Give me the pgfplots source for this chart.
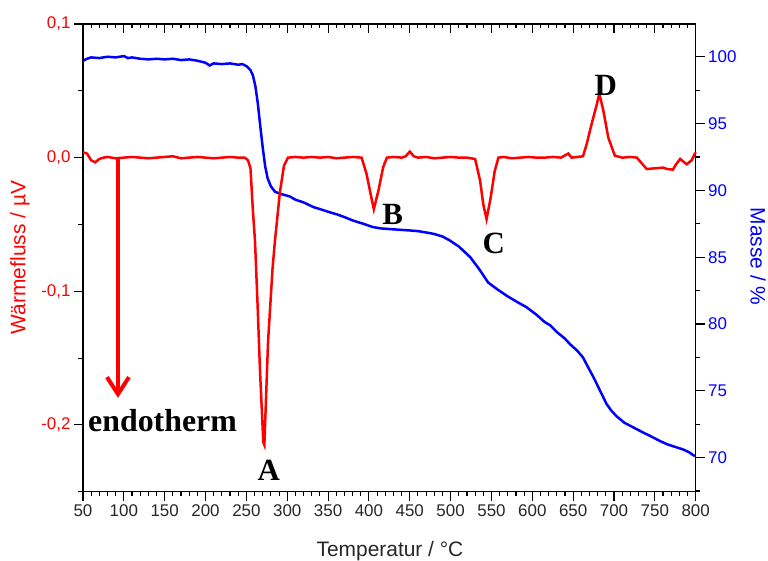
\documentclass[border=0pt]{standalone}
\usepackage{pgfplots}
\pgfplotsset{compat=1.18}
\usepackage{fontspec}
\setmainfont{Liberation Sans}
\newfontfamily\tnr{Liberation Serif}
\begin{document}
\begin{tikzpicture}
\pgfplotsset{
  common/.style={
    scale only axis, width=612.7bp, height=467.7bp,
    at={(0,0)}, anchor=south west,
    xmin=50, xmax=800, clip=false,
    /pgf/number format/assume math mode=true,
    major tick length=9bp, minor tick length=4.5bp,
    tick style={black, line width=1.1bp},
    tick label style={font=\fontsize{17}{20}\selectfont},
    axis line style={line width=1.3bp},
  }
}
% ---------- mass (right axis)
\begin{axis}[common,
  xtick=\empty,
  ymin=67.45, ymax=102.45, ytick={70,75,...,100}, minor y tick num=1,
  ytick pos=right, tick align=outside,
  yticklabel style={text=blue},
  ylabel={Masse / \%},
  every axis y label/.style={at={(axis description cs:1.1017,0.503)}, rotate=-90, anchor=center, font=\fontsize{21}{24}\selectfont, text=blue},
]
\addplot[blue, line width=2.5bp] coordinates {
(50,99.7)(55,99.85)(60,99.95)(70,99.9)(80,100.0)(90,99.95)(100,100.05)(105,99.9)(110,99.95)(120,99.85)(130,99.8)(140,99.85)(150,99.8)(160,99.85)(170,99.75)(180,99.8)(190,99.7)(200,99.55)(205,99.35)(210,99.5)(220,99.45)(230,99.5)(240,99.4)(245,99.45)(250,99.3)(255,99.0)(258,98.6)(261,97.8)(264,96.5)(267,94.8)(270,93.2)(273,91.8)(276,90.9)(280,90.3)(285,89.9)(291,89.75)(297,89.65)(303,89.55)(310,89.3)(320,89.1)(332,88.75)(340,88.6)(350,88.4)(361,88.2)(370,88.0)(380,87.75)(393,87.5)(405,87.25)(415,87.15)(426,87.1)(438,87.05)(450,87.0)(460,86.95)(470,86.85)(479,86.75)(490,86.55)(499,86.25)(510,85.8)(524,85.0)(535,84.1)(546,83.1)(557,82.6)(569,82.1)(580,81.7)(593,81.25)(605,80.7)(615,80.15)(622,79.9)(630,79.4)(640,78.9)(646,78.5)(655,78.0)(662,77.5)(668,76.8)(675,76.0)(683,75.0)(691,74.0)(697,73.5)(703,73.1)(713,72.6)(724,72.25)(735,71.9)(745,71.6)(756,71.25)(765,71.0)(775,70.8)(785,70.6)(792,70.4)(799,70.1)
};
% right-hand ticks
\pgfplotsinvokeforeach{70,75,80,85,90,95,100}{\draw[black, line width=1.1bp] (axis cs:800,#1) -- ++(9bp,0pt);}
\pgfplotsinvokeforeach{67.5,72.5,77.5,82.5,87.5,92.5,97.5}{\draw[black, line width=1.1bp] (axis cs:800,#1) -- ++(4.5bp,0pt);}
\end{axis}
% ---------- heat flow (left axis)
\begin{axis}[common,
  ymin=-0.25, ymax=0.1,
  ytick={-0.2,-0.1,0,0.1}, minor y tick num=1,
  xtick={50,100,...,800}, minor x tick num=4,
  xtick pos=left, ytick pos=left, tick align=outside,
  xticklabel style={text=black!85},
  yticklabel style={text=red},
  yticklabel={\pgfmathprintnumber[fixed,fixed zerofill,precision=1,use comma]{\tick}},
  xlabel={Temperatur / °C},
  ylabel={Wärmefluss / µV},
  every axis x label/.style={at={(axis description cs:0.501,-0.139)}, anchor=base, font=\fontsize{21}{24}\selectfont, text=black!85},
  every axis y label/.style={at={(axis description cs:-0.1028,0.5)}, rotate=90, anchor=center, font=\fontsize{21}{24}\selectfont, text=red},
]
\addplot[red, line width=2.5bp] coordinates {
(50,0.004)(55,0.003)(60,-0.002)(65,-0.0035)(70,-0.001)(75,0.0)(80,0.0005)(90,-0.0005)(100,0.0)(110,0.0005)(120,0.0)(130,-0.0005)(140,0.0)(150,0.0005)(160,0.001)(170,-0.0005)(180,0.0)(190,0.0005)(200,0.0)(210,-0.0005)(220,0.0)(230,0.0005)(240,0.0)(248,0.0)(252,-0.002)(255,-0.008)(258,-0.04)(260.5,-0.062)(263.5,-0.107)(266.7,-0.16)(270.7,-0.213)(272,-0.215)(276.5,-0.138)(282,-0.083)(285,-0.062)(291,-0.026)(296,-0.006)(301,0.0)(310,0.0005)(320,0.0)(330,0.0005)(340,0.0)(350,0.0005)(360,-0.0005)(370,0.0)(380,0.0005)(391,0.0)(397,-0.012)(403,-0.03)(406,-0.0386)(411.5,-0.025)(417.5,-0.007)(422,0.0)(430,0.0005)(440,0.0)(445,0.001)(450,0.0045)(455,0.001)(460,0.0)(470,0.0005)(480,-0.0005)(490,0.0)(500,0.0005)(510,0.0)(520,0.0)(530,-0.001)(536,-0.017)(540,-0.035)(544,-0.046)(549,-0.03)(554,-0.01)(558.5,0.0)(565,0.0005)(575,-0.0005)(585,0.0)(595,0.0005)(605,0.0)(615,0.0)(625,0.0005)(635,0.0)(644,0.003)(648,0.0)(655,0.0005)(662,0.001)(666.5,0.010)(672.5,0.025)(679,0.040)(682,0.048)(687,0.035)(693,0.015)(701,0.0015)(710,0.0)(720,0.0005)(728,0.0)(735,-0.005)(740,-0.0085)(750,-0.008)(760,-0.0075)(765,-0.0085)(772,-0.009)(776,-0.005)(781,-0.001)(785,-0.003)(789,-0.005)(795,-0.002)(799,0.003)(800,0.004)
};
% axis ticks: bottom outward, top inward, left outward
\pgfplotsinvokeforeach{50,60,...,800}{\draw[black, line width=1.1bp] (axis cs:#1,-0.25) -- ++(0pt,-4.5bp); \draw[black, line width=1.1bp] (axis cs:#1,0.1) -- ++(0pt,-4.5bp);}
\pgfplotsinvokeforeach{50,100,...,800}{\draw[black, line width=1.1bp] (axis cs:#1,-0.25) -- ++(0pt,-9bp); \draw[black, line width=1.1bp] (axis cs:#1,0.1) -- ++(0pt,-9bp);}
\pgfplotsinvokeforeach{-0.2,-0.1,0,0.1}{\draw[black, line width=1.1bp] (axis cs:50,#1) -- ++(-9bp,0pt);}
\pgfplotsinvokeforeach{-0.25,-0.15,-0.05,0.05}{\draw[black, line width=1.1bp] (axis cs:50,#1) -- ++(-4.5bp,0pt);}
% endotherm arrow
\draw[red, line width=4bp] (axis cs:92.8,0) -- (axis cs:92.8,-0.176);
\draw[red, line width=4bp, line join=miter] ([shift={(-11bp,17bp)}]axis cs:92.8,-0.177) -- (axis cs:92.8,-0.177) -- ([shift={(11bp,17bp)}]axis cs:92.8,-0.177);
% labels
\node[anchor=base west, inner sep=0pt, font=\tnr\bfseries\fontsize{32}{35}\selectfont] at (axis cs:56.1,-0.2053) {endotherm};
\node[anchor=base, inner sep=0pt, font=\tnr\bfseries\fontsize{31}{34}\selectfont] at (axis cs:277.4,-0.2416) {A};
\node[anchor=base, inner sep=0pt, font=\tnr\bfseries\fontsize{31}{34}\selectfont] at (axis cs:429,-0.0499) {B};
\node[anchor=base, inner sep=0pt, font=\tnr\bfseries\fontsize{31}{34}\selectfont] at (axis cs:552.7,-0.0720) {C};
\node[anchor=base, inner sep=0pt, font=\tnr\bfseries\fontsize{31}{34}\selectfont] at (axis cs:690,0.0466) {D};
\end{axis}
\pgfresetboundingbox
\path[use as bounding box] (-83bp,-69.3bp) rectangle (685bp,491.7bp);
\end{tikzpicture}
\end{document}
